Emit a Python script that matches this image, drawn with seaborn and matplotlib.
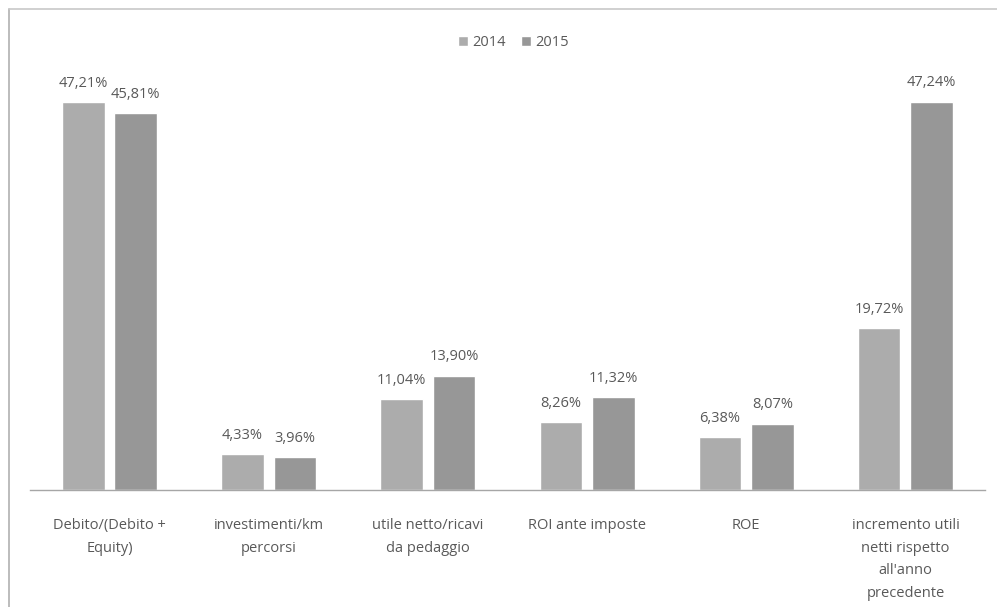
import matplotlib
matplotlib.use("Agg")
import matplotlib.pyplot as plt
import seaborn as sns
import pandas as pd
from matplotlib.lines import Line2D

categories = ["Debito/(Debito +\nEquity)", "investimenti/km\npercorsi",
              "utile netto/ricavi\nda pedaggio", "ROI ante imposte", "ROE",
              "incremento utili\nnetti rispetto\nall'anno\nprecedente"]
years = ["2014", "2015"]
values_2014 = [47.21, 4.33, 11.04, 8.26, 6.38, 19.72]
values_2015 = [45.81, 3.96, 13.90, 11.32, 8.07, 47.24]

df = pd.DataFrame({
    "categoria": categories * 2,
    "anno": [years[0]] * len(categories) + [years[1]] * len(categories),
    "valore": values_2014 + values_2015,
})

sns.set_theme(style="white")
plt.rcParams["font.family"] = ["Open Sans", "DejaVu Sans"]

fig = plt.figure(figsize=(9.97, 6.07), dpi=100)
ax = fig.add_axes([0.030, 0.193, 0.958, 0.677])

palette = {"2014": "#acacac", "2015": "#979797"}
sns.barplot(data=df, x="categoria", y="valore", hue="anno", order=categories,
            hue_order=years, palette=palette, width=0.66, gap=0.19,
            saturation=1, ax=ax, legend=True)

for cont in ax.containers:
    labels = [f"{v:.2f}".replace(".", ",") + "%" for v in cont.datavalues]
    ax.bar_label(cont, labels=labels, padding=8, fontsize=10.5, color="#595959")

ax.set_xlim(-0.5, len(categories) - 0.5)
ax.set_ylim(0, 50)
ax.set_xlabel("")
ax.set_ylabel("")
ax.set_yticks([])
for s in ["top", "right", "left"]:
    ax.spines[s].set_visible(False)
ax.spines["bottom"].set_color("#a6a6a6")
ax.spines["bottom"].set_linewidth(1.0)
ax.tick_params(axis="x", length=0, pad=20, labelsize=10.5, labelcolor="#595959")
for t in ax.get_xticklabels():
    t.set_linespacing(1.72)

handles, labs = ax.get_legend_handles_labels()
ax.legend(handles, labs, loc="center", bbox_to_anchor=(0.515, 0.93),
          bbox_transform=fig.transFigure, ncol=2, frameon=False,
          fontsize=10.5, labelcolor="#595959", handlelength=0.7,
          handleheight=0.7, handletextpad=0.3, columnspacing=1.0)

fig.add_artist(Line2D([0.009, 0.009], [0.0, 0.985], transform=fig.transFigure,
                      color="#b0b0b0", linewidth=1.2))
fig.add_artist(Line2D([0.009, 1.0], [0.985, 0.985], transform=fig.transFigure,
                      color="#c8c8c8", linewidth=1.2))

fig.savefig("out.png", dpi=100)
